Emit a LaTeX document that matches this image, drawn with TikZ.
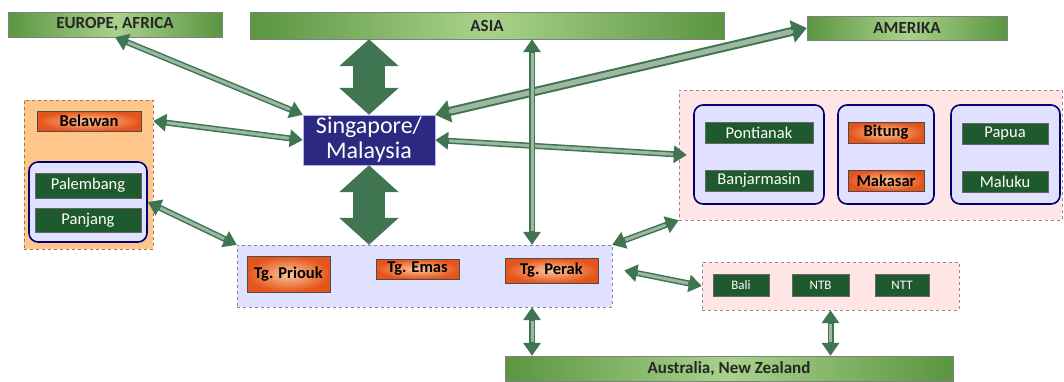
\documentclass[tikz,border=0pt]{standalone}
\usepackage{fontspec}
\setmainfont{Carlito}
\usetikzlibrary{arrows.meta}
\definecolor{barDark}{HTML}{5A9540}
\definecolor{barLight}{HTML}{A9D28C}
\definecolor{cityGreen}{HTML}{1E5A2D}
\definecolor{portDark}{HTML}{E5541B}
\definecolor{portLight}{HTML}{FAC79A}
\definecolor{linkGreen}{HTML}{3F7550}
\definecolor{linkLight}{HTML}{9DB8A2}
\definecolor{sgBlue}{HTML}{2C2A80}

\begin{document}
\begin{tikzpicture}[x=1pt, y=-1pt,
  bar/.style={draw=black!50, left color=barDark, right color=barDark, middle color=barLight,
    text=black!85, font=\bfseries\fontsize{17}{19}\selectfont, inner sep=0pt},
  port/.style={draw=black!70, inner color=portLight, outer color=portDark,
    font=\bfseries\fontsize{16.5}{18}\selectfont, inner sep=0pt},
  city/.style={draw=black!60, fill=cityGreen, text=white,
    font=\fontsize{16.5}{18}\selectfont, inner sep=0pt},
  region/.style={draw=#1!60!black, dashed, fill=#1, inner sep=0pt},
  island/.style={draw=blue!45!black, line width=1.6pt, rounded corners=9pt,
    fill=blue!12!white, inner sep=0pt}]
\tikzset{link/.style={draw=linkGreen, line width=6pt,
    {Triangle[width=17pt,length=13pt]}-{Triangle[width=17pt,length=13pt]},
    postaction={draw=linkLight, line width=3pt, -, shorten <=14pt, shorten >=14pt}},
  biglink/.style={draw=linkGreen, line width=32pt,
    {Triangle[width=58pt,length=27pt]}-{Triangle[width=58pt,length=27pt]}}}
\useasboundingbox (0,0) rectangle (1064,381);

% world
\node[bar, minimum width=214, minimum height=25] (europe) at (115,24.5) {EUROPE, AFRICA};
\node[bar, minimum width=474, minimum height=27] (asia) at (487,25.5) {ASIA};
\node[bar, minimum width=200, minimum height=24] (amerika) at (907,28) {AMERIKA};
\node[bar, minimum width=448, minimum height=25] (austral) at (729,368.5) {Australia, New Zealand};

\node[fill=sgBlue, draw=blue!30!white, text=white, align=center, inner sep=0pt,
  minimum width=132, minimum height=50, font=\fontsize{24}{25}\selectfont]
  (sing) at (369,140) {Singapore/\\Malaysia};

% sumatera
\node[region=orange!45!white, minimum width=129, minimum height=149] (sumatera) at (88.5,174.5) {};
\node[port, minimum width=104, minimum height=20] (belawan) at (89,121) {Belawan};
\node[island, minimum width=118, minimum height=80] (sumsel) at (88,202) {};
\node[city, minimum width=106, minimum height=25] (palembang) at (88,185.5) {Palembang};
\node[city, minimum width=106, minimum height=24] (panjang) at (88,220) {Panjang};

% jawa
\node[region=blue!12!white, minimum width=375, minimum height=62] (jawa) at (424.5,276) {};
\node[port, minimum width=83, minimum height=36] (priouk) at (288.5,274) {Tg. Priouk};
\node[port, minimum width=83, minimum height=20] (emas) at (417.5,269) {Tg. Emas};
\node[port, minimum width=93, minimum height=25] (perak) at (551.5,270.5) {Tg. Perak};

% kawasan timur
\node[region=red!10!white, minimum width=383, minimum height=130] (timur) at (870.5,155) {};
\foreach \n/\x/\w in {kalimantan/759/130, sulawesi/886/96, maluku/1005.5/109}
  \node[island, minimum width=\w, minimum height=99] (\n) at (\x,154.5) {};
\foreach \n/\t/\x/\y/\w in {pontianak/Pontianak/759/132.5/108, banjar/Banjarmasin/759/180.5/108,
    papua/Papua/1005/133.5/86, ambon/Maluku/1005/181.5/86}
  \node[city, minimum width=\w, minimum height=21] (\n) at (\x,\y) {\t};
\node[port, minimum width=76, minimum height=21] (bitung) at (886,132.5) {Bitung};
\node[port, minimum width=76, minimum height=21] (makasar) at (886,180.5) {Makasar};

% nusa tenggara
\node[region=red!10!white, minimum width=257, minimum height=48] (nusa) at (830.5,286) {};
\foreach \n/\t/\x/\w in {bali/Bali/741/56, ntb/NTB/820.5/57, ntt/NTT/902/54}
  \node[city, minimum width=\w, minimum height=22, font=\fontsize{13}{15}\selectfont] (\n) at (\x,285) {\t};

\coordinate (gate) at (532,0);

% links
\draw[biglink] (sing.north) -- (sing.north |- asia.south);
\draw[biglink] (sing.south) -- (sing.south |- jawa.north);
\draw[link] (europe.south) -- (sing.north west);
\draw[link] (sumatera.east |- belawan) -- (sing.west);
\draw[link, line width=9pt, {Triangle[width=22pt,length=15pt]}-{Triangle[width=22pt,length=15pt]},
  postaction={draw=linkLight, line width=5pt, -, shorten <=16pt, shorten >=16pt}]
  (amerika.west) -- (sing.north east);
\draw[link] (sing.east) -- ([xshift=8]timur.west);
\draw[link] (gate |- asia.south) -- (gate |- jawa.north);
\draw[link] (sumsel.east) -- (jawa.north west);
\draw[link] (timur.south west) -- (jawa.north east);
\draw[link] ([xshift=12]jawa.east |- perak) -- (nusa.west);
\draw[link] (gate |- jawa.south) -- (gate |- austral.north);
\draw[link] (nusa.south) -- (nusa.south |- austral.north);
\end{tikzpicture}
\end{document}
